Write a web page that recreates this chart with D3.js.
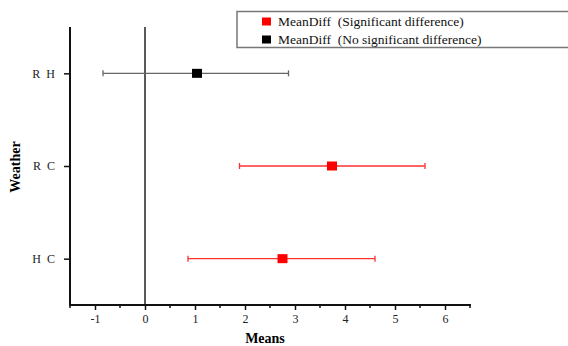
<!DOCTYPE html>
<html><head><meta charset="utf-8">
<script src="https://cdn.jsdelivr.net/npm/d3@7"></script>
<style>body{margin:0;background:#fff;} svg text{font-family:"Liberation Serif","Times New Roman","DejaVu Serif",serif !important;}</style>
</head><body>
<svg id="c" width="568" height="346"></svg>
<script>
const categories = ["R  H", "R  C", "H  C"];
const means = [1.04, 3.74, 2.75];
const lower = [-0.84, 1.89, 0.86];
const upper = [2.87, 5.60, 4.60];
const significant = [false, true, true];
const xTicks = [-1, 0, 1, 2, 3, 4, 5, 6];
const legendLabels = ["MeanDiff  (Significant difference)", "MeanDiff  (No significant difference)"];

const svg = d3.select("#c");
const L = 70, R = 470, T = 27, B = 305;
const x = d3.scaleLinear().domain([-1.5, 6.5]).range([L, R]);
const y = d3.scaleLinear().domain([0.5, 3.5]).range([T, B]);

// zero line
svg.append("line").attr("x1", x(0)).attr("x2", x(0)).attr("y1", T).attr("y2", B)
  .attr("stroke", "#222").attr("stroke-width", 1.5);

// x axis
const xa = svg.append("g").attr("transform", `translate(0,${B})`)
  .call(d3.axisBottom(x).tickValues(xTicks).tickSize(5).tickPadding(4).tickFormat(d => String(d)));
xa.attr("font-family", null);
xa.select(".domain").remove();
xa.selectAll(".tick line").attr("stroke", "#111").attr("stroke-width", 1.5);
xa.selectAll(".tick text").attr("font-size", 12).attr("fill", "#222");
const minor = d3.range(-1.5, 6.51, 1);
svg.append("g").selectAll("line").data(minor).join("line")
  .attr("x1", d => x(d)).attr("x2", d => x(d)).attr("y1", B).attr("y2", B + 3)
  .attr("stroke", "#111").attr("stroke-width", 1.5);
svg.append("line").attr("x1", L).attr("x2", R + 1).attr("y1", B).attr("y2", B)
  .attr("stroke", "#111").attr("stroke-width", 2);

// y axis
const ya = svg.append("g").attr("transform", `translate(${L},0)`)
  .call(d3.axisLeft(y).tickValues([1, 2, 3]).tickSize(6).tickPadding(9).tickFormat(d => categories[d - 1]));
ya.attr("font-family", null);
ya.select(".domain").remove();
ya.selectAll(".tick line").attr("stroke", "#111").attr("stroke-width", 1.5);
ya.selectAll(".tick text").attr("font-size", 12).attr("fill", "#222").style("white-space", "pre");
svg.append("line").attr("x1", L).attr("x2", L).attr("y1", T).attr("y2", B + 1)
  .attr("stroke", "#111").attr("stroke-width", 2);

// error bars
const g = svg.append("g");
categories.forEach((c, i) => {
  const yy = y(i + 1);
  const col = significant[i] ? "#ff3030" : "#666";
  g.append("line").attr("x1", x(lower[i])).attr("x2", x(upper[i])).attr("y1", yy).attr("y2", yy)
    .attr("stroke", col).attr("stroke-width", 1.3);
  [lower[i], upper[i]].forEach(v => {
    g.append("line").attr("x1", x(v)).attr("x2", x(v)).attr("y1", yy - 3).attr("y2", yy + 3)
      .attr("stroke", col).attr("stroke-width", 1.3);
  });
  g.append("rect").attr("x", x(means[i]) - 5).attr("y", yy - 4.5).attr("width", 10).attr("height", 9)
    .attr("fill", significant[i] ? "#ff0000" : "#000");
});

// axis titles
svg.append("text").attr("x", 265).attr("y", 343).attr("text-anchor", "middle")
  .attr("font-size", 14).attr("font-weight", "bold").text("Means");
svg.append("text").attr("transform", "translate(20,167) rotate(-90)").attr("text-anchor", "middle")
  .attr("font-size", 14).attr("font-weight", "bold").text("Weather");

// legend
svg.append("rect").attr("x", 237).attr("y", 11.5).attr("width", 340).attr("height", 36)
  .attr("fill", "#fff").attr("stroke", "#777").attr("stroke-width", 1.5);
const lg = svg.append("g");
legendLabels.forEach((t, i) => {
  const cy = 21.5 + i * 18;
  lg.append("rect").attr("x", 262).attr("y", cy - 4).attr("width", 9).attr("height", 8)
    .attr("fill", i === 0 ? "#ff0000" : "#000");
  lg.append("text").attr("x", 278).attr("y", cy + 4.5).attr("font-size", 13.5).attr("fill", "#111")
    .style("white-space", "pre").text(t);
});
</script>
</body></html>
